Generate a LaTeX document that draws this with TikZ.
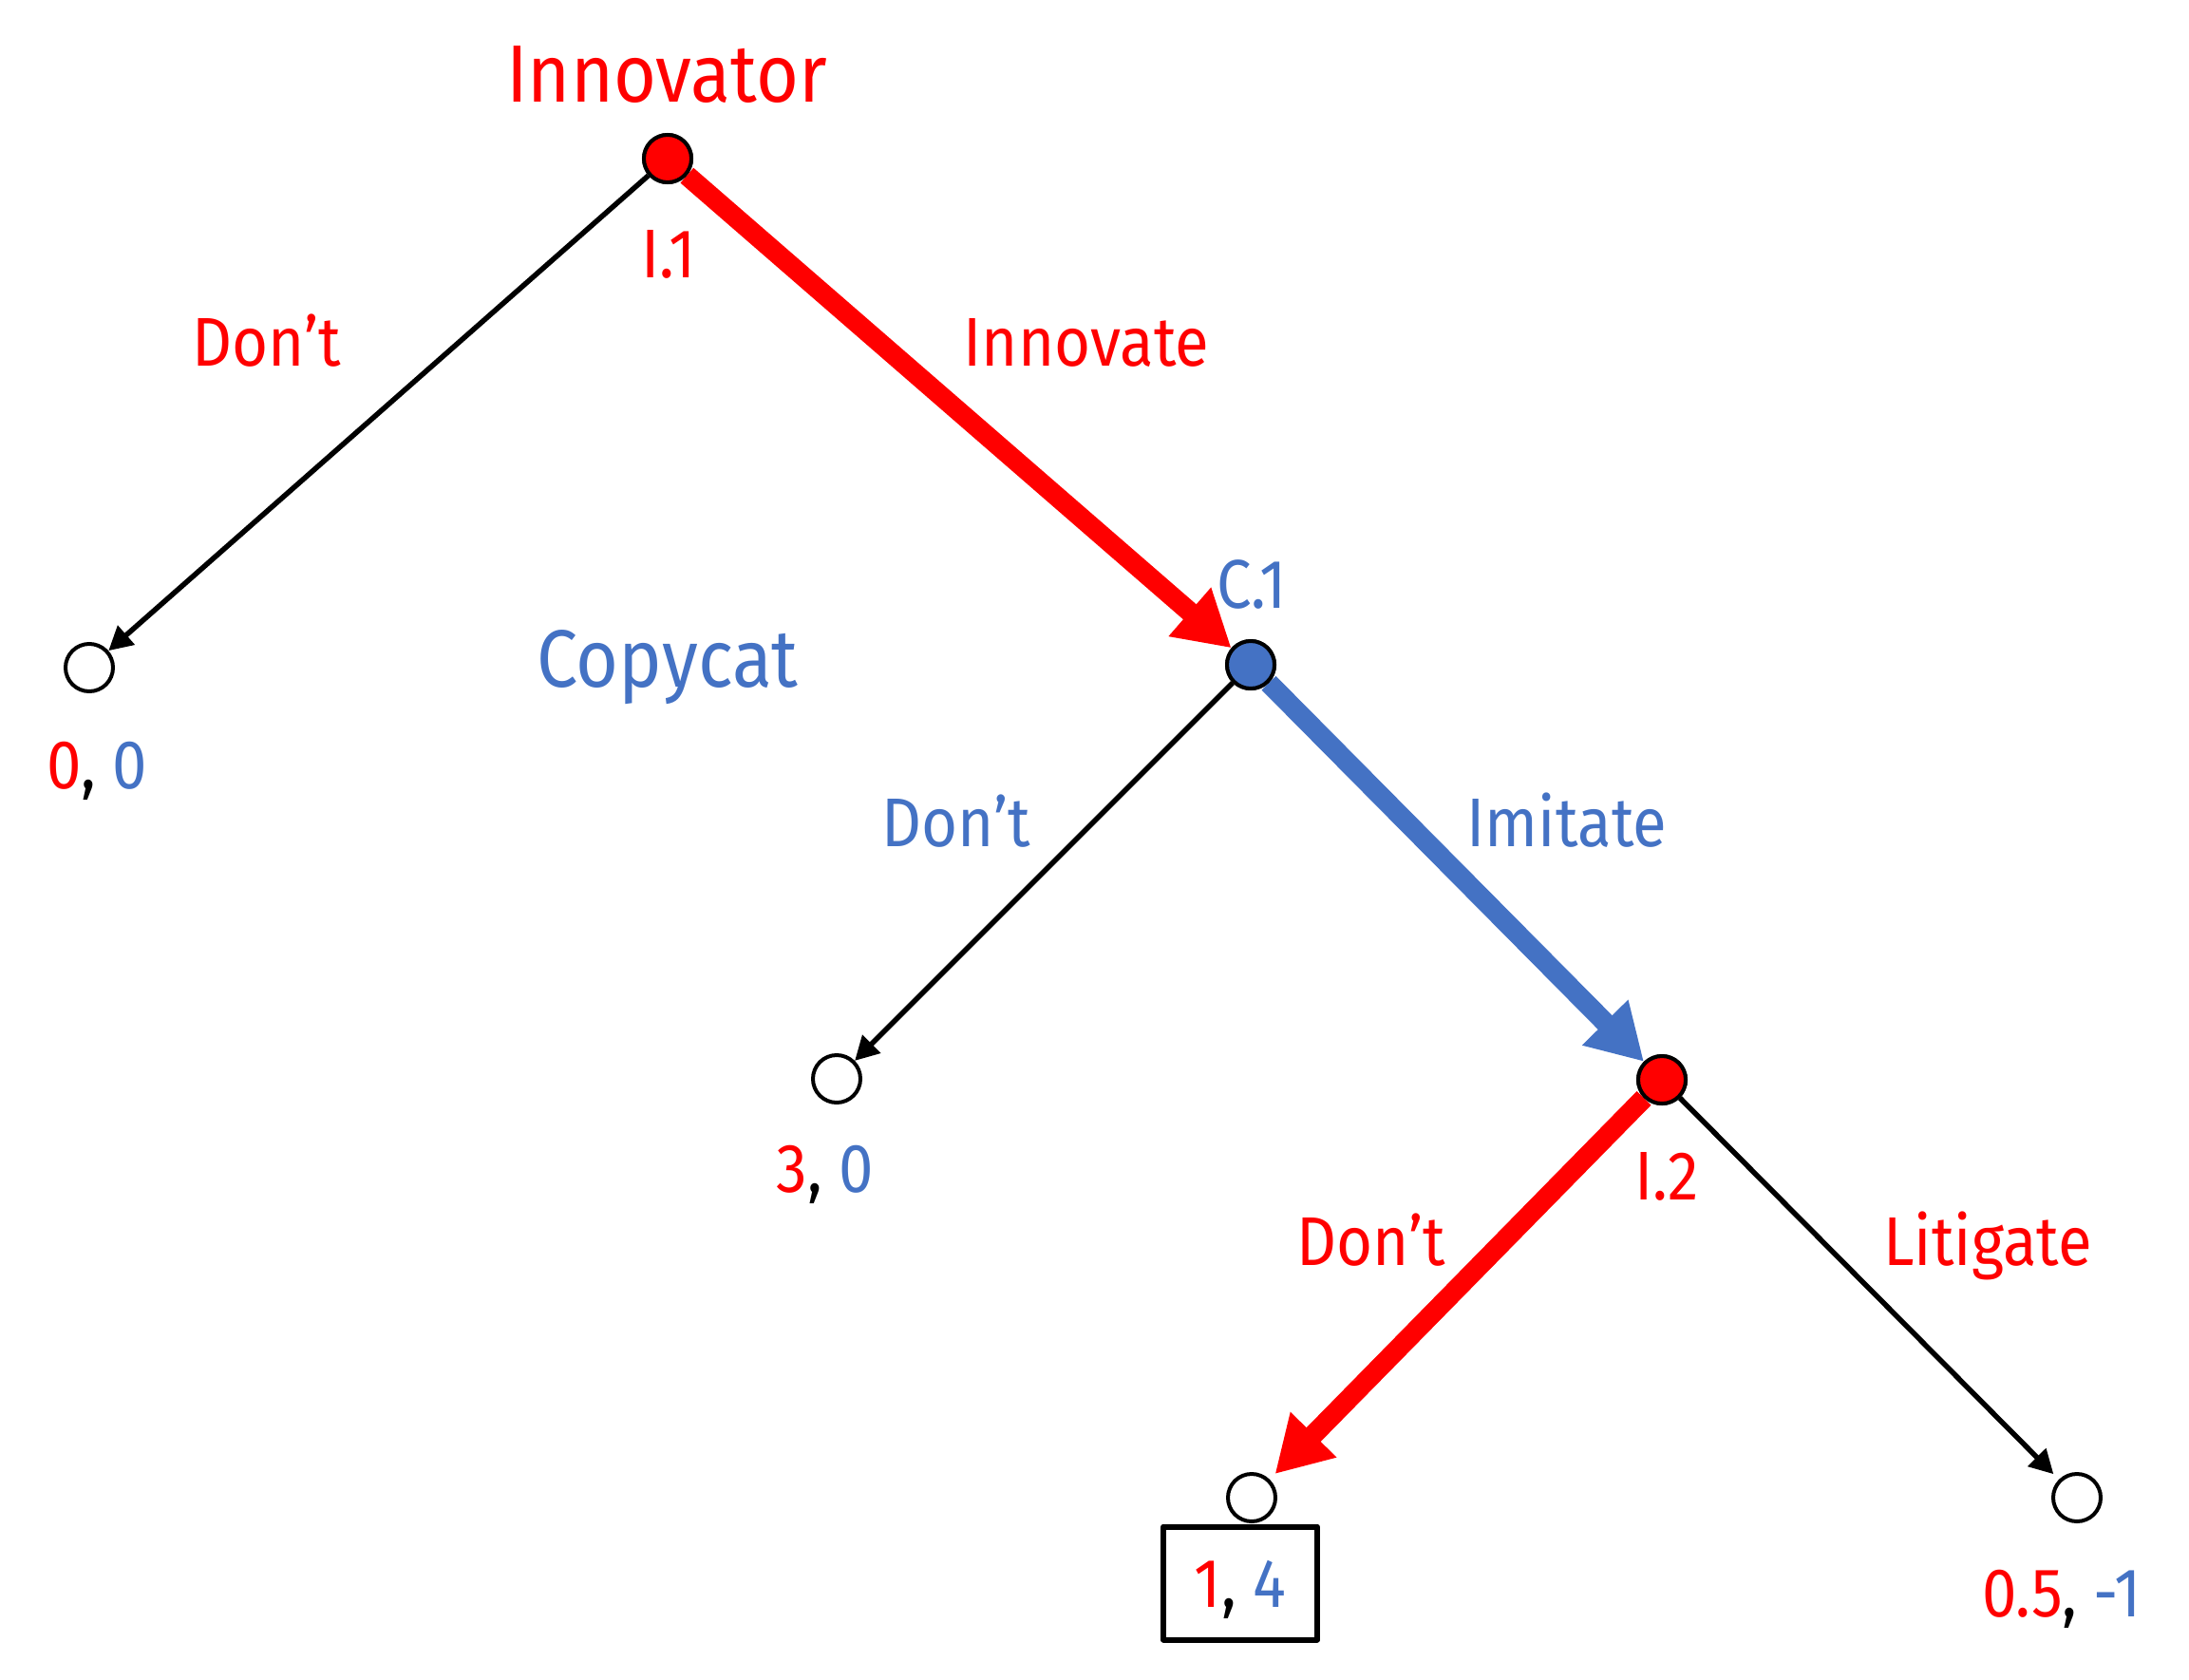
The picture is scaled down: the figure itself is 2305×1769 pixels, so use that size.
\documentclass[tikz,border=0pt]{standalone}
\usepackage{fontspec}
\setmainfont{Fira Sans}[FakeStretch=0.9]
\usetikzlibrary{arrows.meta}
\definecolor{pred}{RGB}{255,0,0}
\definecolor{pblue}{RGB}{68,114,196}
\tikzset{
  decision/.style={circle, draw=black, line width=4pt, minimum size=50pt, inner sep=0pt},
  terminal/.style={decision, fill=white},
  lbl/.style={anchor=base, inner sep=0pt, font=\fontsize{72.6}{80}\selectfont},
  player/.style={anchor=base, inner sep=0pt, font=\fontsize{85.6}{90}\selectfont},
  thinedge/.style={draw=black, line width=5.5pt, -{Triangle[length=25pt,width=26pt]}},
  redpath/.style={draw=pred, line width=21pt, -{Triangle[length=58pt,width=64pt]}},
  bluepath/.style={draw=pblue, line width=21pt, -{Triangle[length=58pt,width=64pt]}},
}
\begin{document}
\begin{tikzpicture}[x=1pt, y=-1pt]
\useasboundingbox (0,0) rectangle (2305,1769);

% decision and terminal nodes
\node[decision, fill=pred]  (I1) at (703,167) {};
\node[decision, fill=pblue] (C1) at (1317,700) {};
\node[decision, fill=pred]  (I2) at (1750,1137) {};
\node[terminal] (L1) at (94,703) {};
\node[terminal] (L2) at (881,1136) {};
\node[terminal] (L3) at (1318,1577) {};
\node[terminal] (L4) at (2187,1577) {};

% branches
\draw[thinedge] (I1) -- (L1);
\draw[redpath] (I1) -- (C1);
\draw[thinedge] (C1) -- (L2);
\draw[bluepath] (C1) -- (I2);
\draw[redpath, shorten >=8pt] (I2) -- (L3);
\draw[thinedge, shorten >=8pt] (I2) -- (L4);

% redraw decision nodes on top of the branch ends
\node[decision, fill=pred]  at (I1) {};
\node[decision, fill=pblue] at (C1) {};
\node[decision, fill=pred]  at (I2) {};

% player names and node labels
\node[player, text=pred]  (tInnovator) at (702,107) {Innovator};
\node[player, text=pblue] (tCopycat) at (703,723) {Copycat};
\node[lbl, text=pred]  (tI1) at (704,292) {I.1};
\node[lbl, text=pblue] (tC1) at (1318,640) {C.1};
\node[lbl, text=pred]  (tI2) at (1755,1263) {I.2};

% action labels
\node[lbl, text=pred]  (aDont1) at (281,385) {Don’t};
\node[lbl, text=pred]  (aInnov) at (1144,385) {Innovate};
\node[lbl, text=pblue] (aDont2) at (1007,891) {Don’t};
\node[lbl, text=pblue] (aImit) at (1650,891) {Imitate};
\node[lbl, text=pred]  (aDont3) at (1444,1332) {Don’t};
\node[lbl, text=pred]  (aLit) at (2093,1332) {Litigate};

% payoffs
\node[lbl] (p1) at (102,830) {\textcolor{pred}{0}, \textcolor{pblue}{0}};
\node[lbl] (p2) at (869,1255) {\textcolor{pred}{3}, \textcolor{pblue}{0}};
\node[draw=black, line width=6pt, line join=round, minimum width=162pt, minimum height=119pt,
      inner sep=0pt, text height=50pt, text depth=0pt, font=\fontsize{72.6}{80}\selectfont]
      (p3) at (1306,1667) {\textcolor{pred}{1}, \textcolor{pblue}{4}};
\node[lbl] (p4) at (2171,1702) {\textcolor{pred}{0.5}, \textcolor{pblue}{-1}};
\end{tikzpicture}
\end{document}
